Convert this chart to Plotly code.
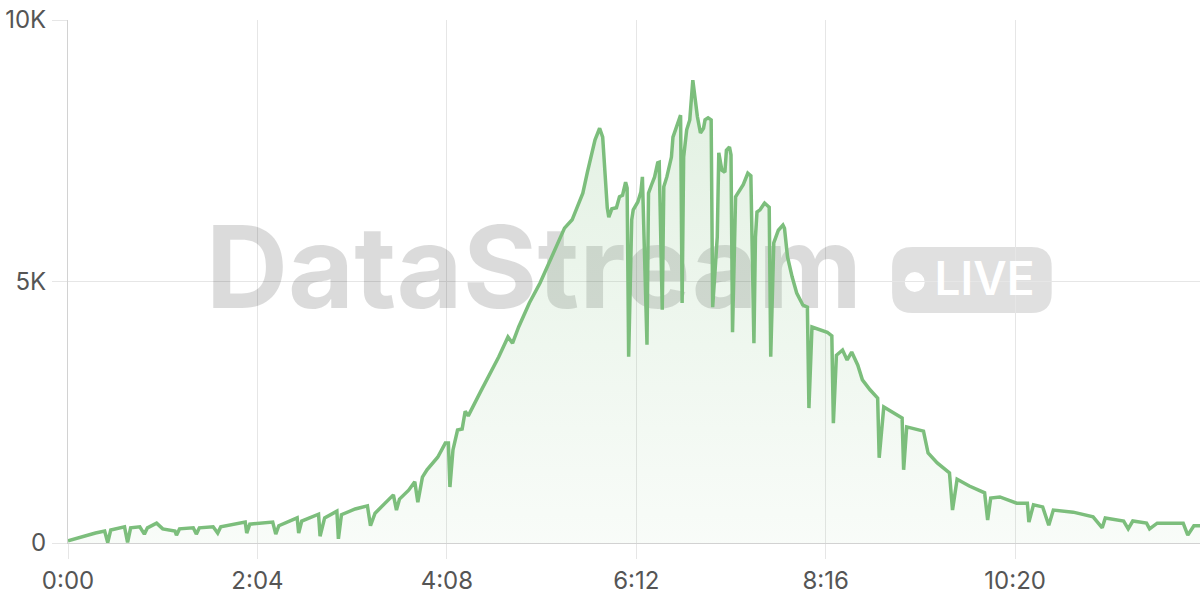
import plotly.graph_objects as go

# ---- data (seconds elapsed, events) ----
TIMES = [0,8,18,24,26,28,37,39,41,47,50,52,58,62,70,71,73,82,84,86,
         95,98,100,116,117,119,127,134,136,138,150,151,153,164,165,168,176,177,179,188,
         196,198,201,211,213,215,217,223,227,229,232,235,242,247,249,250,252,255,258,260,
         262,270,276,282,288,291,295,302,309,318,325,330,337,340,345,348,350,353,354,356,
         359,361,363,365,366,367,369,370,373,375,376,379,380,382,384,386,387,389,390,392,
         395,396,399,401,402,403,405,407,409,412,414,416,417,419,421,422,425,426,428,430,
         431,433,434,435,437,439,442,445,447,449,450,451,453,456,459,460,462,465,468,469,
         471,474,477,481,484,485,487,497,500,501,503,507,510,513,517,520,525,530,531,534,
         546,547,549,560,563,569,577,579,582,590,600,602,604,610,621,628,629,632,638,642,
         645,658,671,677,679,691,694,697,706,708,713,730,733,737,741]

VALUES = [40,110,190,230,10,250,310,10,290,310,170,290,380,270,230,150,270,290,170,290,
          310,190,310,400,190,360,380,400,170,330,480,190,420,550,130,480,610,80,540,650,
          710,330,570,860,920,630,840,1010,1170,780,1260,1400,1640,1910,1910,1070,1780,2160,2180,2520,
          2430,2890,3210,3560,3940,3820,4130,4590,4970,5540,6020,6180,6690,7090,7710,7930,7760,6410,6230,6390,
          6410,6620,6650,6900,6790,3560,6180,6370,6520,6710,7000,3790,6690,6850,7000,7270,7280,4460,6810,7000,
          7380,7760,8030,8180,4590,7380,7900,8090,8850,8150,7840,7930,8090,8130,8090,4510,5850,7460,7130,7090,
          7510,7570,7420,4030,6620,6710,6850,7070,7020,3820,5850,6330,6370,6500,6420,3560,5740,5980,6080,6020,
          5470,5090,4780,4550,4510,2580,4130,4030,3960,2290,3590,3690,3500,3650,3400,3120,2930,2770,1630,2600,
          2390,1400,2220,2140,1720,1530,1340,630,1220,1090,960,440,860,880,760,760,400,730,690,340,
          630,590,500,290,480,420,270,420,380,270,380,380,150,330,330]

X_TICKS = [0, 124, 248, 372, 496, 620]
X_TICK_LABELS = ["0:00", "2:04", "4:08", "6:12", "8:16", "10:20"]
Y_TICKS = [0, 5000, 10000]
Y_TICK_LABELS = ["0", "5K", "10K"]
X_MAX = 741
Y_MAX = 10000

WATERMARK = "DataStream"
BADGE = "LIVE"

GREEN = "rgb(124,190,124)"
GRID = "#e6e6e6"
AXIS = "#d2d2d2"
TICK_FONT = dict(family="Inter, Roboto, sans-serif", size=24, color="#555555")

fig = go.Figure()

# watermark (drawn first so the chart sits on top of it)
fig.add_trace(go.Scatter(
    x=[305], y=[5040], mode="text", text=[WATERMARK],
    textfont=dict(family="Inter", size=114, color="rgba(0,0,0,0.14)", weight=700),
    hoverinfo="skip", showlegend=False))
fig.add_trace(go.Scatter(
    x=[600], y=[4970], mode="text", text=[BADGE],
    textfont=dict(family="Inter", size=46, color="white", weight=600),
    hoverinfo="skip", showlegend=False))

fig.add_trace(go.Scatter(
    x=TIMES, y=VALUES, mode="lines",
    line=dict(color=GREEN, width=3.5),
    fill="tozeroy",
    fillgradient=dict(type="vertical",
                      colorscale=[[0, "rgba(124,190,124,0.05)"],
                                  [1, "rgba(124,190,124,0.22)"]]),
    hoverinfo="skip", showlegend=False))

# LIVE badge (rounded rectangle + dot), between grid and traces
x0, x1, y0, y1 = 0.728, 0.869, 0.440, 0.566
rx, ry = 0.0177, 0.0382
path = (f"M {x0+rx},{y0} L {x1-rx},{y0} Q {x1},{y0} {x1},{y0+ry} "
        f"L {x1},{y1-ry} Q {x1},{y1} {x1-rx},{y1} L {x0+rx},{y1} "
        f"Q {x0},{y1} {x0},{y1-ry} L {x0},{y0+ry} Q {x0},{y0} {x0+rx},{y0} Z")
fig.add_shape(type="path", path=path, xref="paper", yref="paper",
              fillcolor="rgba(0,0,0,0.12)", line=dict(width=0), layer="between")
fig.add_shape(type="circle", xref="paper", yref="paper",
              x0=0.748 - 0.0088, x1=0.748 + 0.0088, y0=0.499 - 0.019, y1=0.499 + 0.019,
              fillcolor="white", line=dict(width=0), layer="between")

fig.update_layout(
    width=1200, height=600,
    margin=dict(l=68, r=0, t=20, b=57),
    paper_bgcolor="white", plot_bgcolor="white",
    showlegend=False,
    hovermode=False,
    xaxis=dict(range=[0, X_MAX], tickvals=X_TICKS, ticktext=X_TICK_LABELS,
               showgrid=True, gridcolor=GRID, gridwidth=1,
               ticks="outside", ticklen=15, tickcolor=GRID, tickwidth=1,
               showline=True, linecolor=AXIS, linewidth=1, automargin=False,
               zeroline=False, tickfont=TICK_FONT, ticklabelstandoff=1),
    yaxis=dict(range=[0, Y_MAX], tickvals=Y_TICKS, ticktext=Y_TICK_LABELS,
               showgrid=True, gridcolor=GRID, gridwidth=1,
               ticks="outside", ticklen=15, tickcolor=GRID, tickwidth=1,
               showline=True, linecolor=AXIS, linewidth=1, automargin=False,
               zeroline=False, tickfont=TICK_FONT, ticklabelstandoff=1),
)

fig.write_html(
    "out.html",
    config={"displayModeBar": False},
    post_script="document.body.style.margin='0';document.body.style.overflow='hidden';",
)
